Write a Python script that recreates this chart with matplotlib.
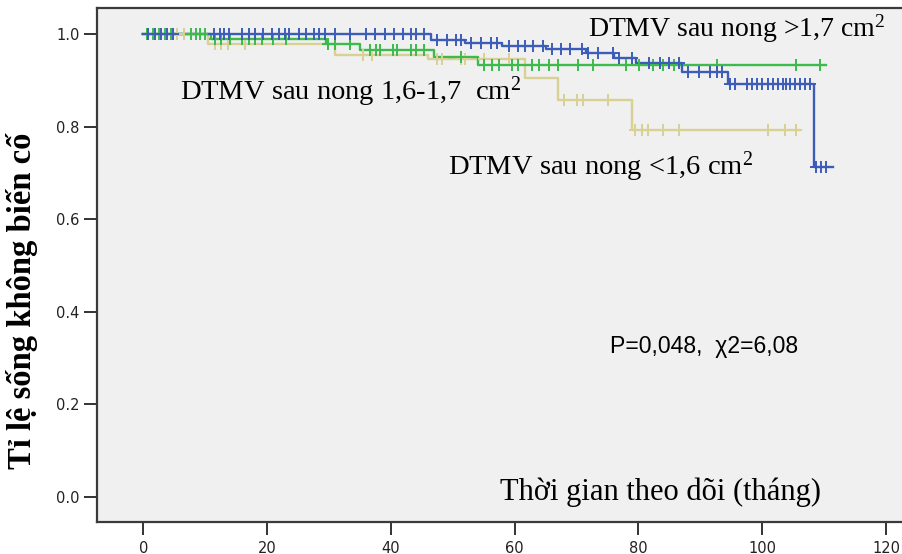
import numpy as np
import matplotlib
matplotlib.use("Agg")
import matplotlib.pyplot as plt

plt.rcParams['mathtext.fontset'] = 'custom'
plt.rcParams['mathtext.rm'] = 'Liberation Serif'
plt.rcParams['mathtext.default'] = 'rm'

# --- Kaplan-Meier curves ---
# DTMV sau nong >1,7 cm2 (blue)
blue_t = [0, 46.4, 52, 58, 65, 71.5, 76, 79.6, 87, 94.5, 108.3]
blue_s = [1.0, 0.987, 0.980, 0.973, 0.967, 0.959, 0.948, 0.937, 0.918, 0.892, 0.713]
blue_end = 111.5
blue_cens = [0.8, 1.8, 2.8, 3.8, 4.8, 11.4, 12.3, 13.1, 13.9, 15.9, 17, 18, 19.4, 20.8,
             21.9, 22.9, 23.5, 25.2, 26.2, 27.6, 28.4, 29.4, 31, 33.4, 36, 37.5, 39, 40.5,
             42, 43.2, 44.1, 45.3, 47.4, 49, 50.5, 51.3, 53, 54.5, 56.2, 57.2, 59, 60.5,
             61.6, 63, 64.5, 66, 67.5, 69, 70.9, 71.9, 73.5, 75.9, 76.8, 79, 81.7, 83.4,
             85, 86.6, 88, 89.7, 91.5, 92.7, 93.5, 94.8, 95.6, 97.6, 98.4, 99.2, 100,
             100.9, 101.7, 102.5, 103.3, 103.8, 104.5, 105.3, 106.1, 106.9, 107.7,
             108.7, 109.5, 110.3]

# DTMV sau nong 1,6-1,7 cm2 (green)
green_t = [0, 11, 29.5, 35, 47, 54]
green_s = [1.0, 0.99, 0.978, 0.965, 0.950, 0.933]
green_end = 110.3
green_cens = [0.5, 1.5, 2.5, 3.5, 4.5, 7.7, 8.5, 9.2, 10, 11.5, 12.5, 14, 16, 17, 18,
              19.2, 21, 23, 29.8, 31, 33.4, 36.6, 37.6, 38.3, 40.4, 40.9, 43.2, 44.1,
              45.3, 51.3, 55, 56.3, 57.5, 59.5, 60.5, 62.8, 64, 65.5, 67, 70.3, 72.6,
              78, 80.1, 82.4, 84, 85.7, 92.7, 105.5, 109.4]

# DTMV sau nong <1,6 cm2 (tan)
tan_t = [0, 10.5, 31, 46, 61.6, 67, 79]
tan_s = [1.0, 0.978, 0.955, 0.946, 0.905, 0.857, 0.793]
tan_end = 106
tan_cens = [5.5, 6.5, 11.5, 12.6, 13.7, 16.4, 35.5, 37, 47.5, 48.3, 51.3, 52, 55, 59,
            68, 70, 71, 75, 79.5, 80.5, 81.5, 84, 86.6, 101, 103.6, 105.4]

x_ticks = [0, 20, 40, 60, 80, 100, 120]
y_ticks = [0.0, 0.2, 0.4, 0.6, 0.8, 1.0]

W, H = 903, 554
fig = plt.figure(figsize=(W / 100, H / 100), dpi=100)
fig.patch.set_facecolor('white')
ax = fig.add_axes([97 / W, 1 - 522 / H, 1.01 - 97 / W, (522 - 8) / H])
ax.set_facecolor('#f0f0f0')


def km(t, s, end, cens, color):
    xs = list(t) + [end]
    ys = list(s) + [s[-1]]
    ax.step(xs, ys, where='post', color=color, lw=1.7, zorder=2)
    idx = np.searchsorted(t, cens, side='right') - 1
    ax.plot(cens, np.array(s)[idx], ls='none', marker='+', ms=8, mew=1.4,
            color=color, zorder=3)


km(tan_t, tan_s, tan_end, tan_cens, '#d9d096')
km(green_t, green_s, green_end, green_cens, '#3cba4c')
km(blue_t, blue_s, blue_end, blue_cens, '#3c5cb8')

ax.set_xlim(-7.5, 124.2)
ax.set_ylim(-0.054, 1.056)
ax.set_xticks(x_ticks)
ax.set_yticks(y_ticks)
ax.set_yticklabels(['%.1f' % v for v in y_ticks])
ax.tick_params(axis='both', direction='out', length=9.5, width=1.4, color='#333333',
               labelsize=10.5, labelcolor='#222222')
ax.tick_params(axis='y', pad=3)
ax.tick_params(axis='x', pad=4)
for side in ['left', 'top', 'bottom']:
    ax.spines[side].set_color('#3a3a3a')
    ax.spines[side].set_linewidth(1.6)
ax.spines['right'].set_visible(False)

serif = 'Liberation Serif'
def ftext(x, y, s, **kw):
    fig.text(x / W, 1 - y / H, s, ha='left', va='baseline', **kw)

ftext(588, 37, 'DTMV sau nong >1,7 cm$^{2}$', family=serif, fontsize=20)
ftext(180, 100, 'DTMV sau nong 1,6-1,7  cm$^{2}$', family=serif, fontsize=20.5)
ftext(448, 175, 'DTMV sau nong <1,6 cm$^{2}$', family=serif, fontsize=20.5)
ftext(500, 500, 'Thời gian theo dõi (tháng)', family=serif, fontsize=22)
ftext(610, 353, 'P=0,048,  χ2=6,08', family='Liberation Sans', fontsize=16.6)

fig.text(22 / W, 1 - 301 / H, 'Tỉ lệ sống không biến cố', family=serif,
         fontweight='bold', fontsize=23.5, rotation=90, ha='center', va='center')

fig.savefig('out.png', dpi=100)
